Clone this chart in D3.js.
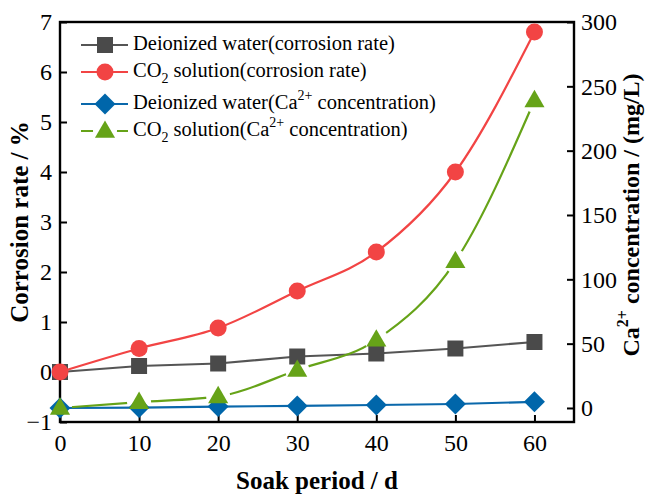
<!DOCTYPE html>
<html>
<head>
<meta charset="utf-8">
<script src="https://cdn.jsdelivr.net/npm/d3@7"></script>
<style>
  html, body { margin: 0; padding: 0; background: #fff; }
</style>
</head>
<body>
<svg id="chart" width="647" height="494"></svg>
<script>
// Soak period (days)
const days = [0, 10, 20, 30, 40, 50, 60];
// Corrosion rate (%), left axis
const diRate  = [0, 0.12, 0.17, 0.31, 0.37, 0.47, 0.6];
const co2Rate = [0, 0.47, 0.88, 1.62, 2.4, 4.0, 6.8];
// Ca2+ concentration (mg/L), right axis
const diCa  = [0, 0.3, 1.1, 1.6, 2.3, 3.1, 4.8];
const co2Ca = [0, 4.5, 9, 29.5, 53, 114, 239];

const xTicks = [0, 10, 20, 30, 40, 50, 60];
const leftTicks = [-1, 0, 1, 2, 3, 4, 5, 6, 7];
const rightTicks = [0, 50, 100, 150, 200, 250, 300];

const FONT = "Liberation Serif";

const svg = d3.select("#chart");
const L = 60, R = 574, T = 22, B = 422;

const x = d3.scaleLinear().domain([0, 65]).range([L, R]);
const yL = d3.scaleLinear().domain([-1, 7]).range([B, T]);
const yR = d3.scaleLinear().domain([-10.9, 300]).range([B, T]);

const series = [
  { name: "di-rate",  vals: diRate,  y: yL, color: "#555555", mcolor: "#4a4a4a", sym: "square",   curve: d3.curveLinear,   gap: false },
  { name: "co2-rate", vals: co2Rate, y: yL, color: "#f24444", mcolor: "#f24444", sym: "circle",   curve: d3.curveMonotoneX, gap: false },
  { name: "di-ca",    vals: diCa,    y: yR, color: "#0a68ab", mcolor: "#0066aa", sym: "diamond",  curve: d3.curveLinear,   gap: false },
  { name: "co2-ca",   vals: co2Ca,   y: yR, color: "#66a318", mcolor: "#66a318", sym: "triangle", curve: d3.curveMonotoneX, gap: true }
];

function symbolPath(sym) {
  if (sym === "square") return d3.symbol(d3.symbolSquare, 256)();
  if (sym === "circle") return d3.symbol(d3.symbolCircle, 227)();
  if (sym === "diamond") return d3.symbol(d3.symbolSquare, 220)();
  return d3.symbol(d3.symbolTriangle, 175)();
}
function symbolTransform(sym, px, py) {
  if (sym === "diamond") return `translate(${px},${py}) rotate(45)`;
  if (sym === "triangle") return `translate(${px},${py + 1})`;
  return `translate(${px},${py})`;
}

const defs = svg.append("defs");

// mask that leaves a gap in the line around each symbol
function gapMask(id, pts, r) {
  const m = defs.append("mask").attr("id", id).attr("maskUnits", "userSpaceOnUse")
    .attr("x", 0).attr("y", 0).attr("width", 647).attr("height", 494);
  m.append("rect").attr("x", 0).attr("y", 0).attr("width", 647).attr("height", 494).attr("fill", "#fff");
  pts.forEach(p => m.append("circle").attr("cx", p[0]).attr("cy", p[1]).attr("r", r).attr("fill", "#000"));
}

// frame and axes (drawn under the data)
const axisStyle = g => {
  g.attr("font-family", FONT).attr("font-size", 24);
  g.select(".domain").remove();
  g.selectAll(".tick line").attr("stroke", "#000").attr("stroke-width", 2);
  g.selectAll(".tick text").attr("fill", "#000").style("font-family", `"${FONT}"`).attr("font-size", 24);
};

svg.append("g").attr("transform", `translate(0,${B})`)
  .call(d3.axisBottom(x).tickValues(xTicks).tickSizeInner(-7).tickSizeOuter(0).tickPadding(12).tickFormat(d3.format("d")))
  .call(axisStyle);

svg.append("g").attr("transform", `translate(${L},0)`)
  .call(d3.axisLeft(yL).tickValues(leftTicks).tickSizeInner(-7).tickSizeOuter(0).tickPadding(8).tickFormat(d3.format("d")))
  .call(axisStyle);

svg.append("g").attr("transform", `translate(${R},0)`)
  .call(d3.axisRight(yR).tickValues(rightTicks).tickSizeInner(-7).tickSizeOuter(0).tickPadding(7).tickFormat(d3.format("d")))
  .call(axisStyle);

svg.append("rect")
  .attr("x", L).attr("y", T).attr("width", R - L).attr("height", B - T)
  .attr("fill", "none").attr("stroke", "#000").attr("stroke-width", 2.4);

// lines then markers
series.forEach(s => {
  const pts = days.map((d, i) => [x(d), s.y(s.vals[i])]);
  const line = d3.line().curve(s.curve);
  const p = svg.append("path")
    .attr("d", line(pts))
    .attr("fill", "none")
    .attr("stroke", s.color)
    .attr("stroke-width", 2.2);
  if (s.gap) {
    gapMask("gap-" + s.name, pts, 12);
    p.attr("mask", `url(#gap-${s.name})`);
  }
  s.pts = pts;
});
series.forEach(s => {
  svg.append("g").selectAll("path").data(s.pts).join("path")
    .attr("d", symbolPath(s.sym))
    .attr("transform", p => symbolTransform(s.sym, p[0], p[1]))
    .attr("fill", s.mcolor);
});

// axis titles
svg.append("text")
  .attr("x", (L + R) / 2).attr("y", 483)
  .attr("text-anchor", "middle").attr("dominant-baseline", "middle")
  .style("font-family", `"${FONT}"`)
  .attr("font-size", 25).attr("font-weight", "bold")
  .text("Soak period / d");

svg.append("text")
  .attr("transform", "translate(22,222) rotate(-90)")
  .attr("text-anchor", "middle").attr("dominant-baseline", "middle")
  .style("font-family", `"${FONT}"`)
  .attr("font-size", 25).attr("font-weight", "bold")
  .text("Corrosion rate / %");

const rt = svg.append("text")
  .attr("transform", "translate(633,215) rotate(-90)")
  .attr("text-anchor", "middle").attr("dominant-baseline", "middle")
  .style("font-family", `"${FONT}"`)
  .attr("font-size", 24).attr("font-weight", "bold");
rt.append("tspan").text("Ca");
rt.append("tspan").attr("font-size", 16).attr("baseline-shift", "super").text("2+");
rt.append("tspan").text(" concentration / (mg/L)");

// legend
const legendRows = [
  { s: series[0], y: 45,  parts: [["Deionized water(corrosion rate)", null]] },
  { s: series[1], y: 72,  parts: [["CO", null], ["2", "sub"], [" solution(corrosion rate)", null]] },
  { s: series[2], y: 104, parts: [["Deionized water(Ca", null], ["2+", "super"], [" concentration)", null]] },
  { s: series[3], y: 131, parts: [["CO", null], ["2", "sub"], [" solution(Ca", null], ["2+", "super"], [" concentration)", null]] }
];
const lx0 = 81, lx1 = 128, lxm = 105, ltx = 133;
legendRows.forEach((row, i) => {
  const g = svg.append("g");
  const ln = g.append("line")
    .attr("x1", lx0).attr("x2", lx1).attr("y1", row.y).attr("y2", row.y)
    .attr("stroke", row.s.color).attr("stroke-width", 2.2);
  if (row.s.gap) {
    gapMask("lg-gap-" + i, [[lxm, row.y]], 12);
    ln.attr("mask", `url(#lg-gap-${i})`);
  }
  g.append("path").attr("d", symbolPath(row.s.sym))
    .attr("transform", symbolTransform(row.s.sym, lxm, row.y))
    .attr("fill", row.s.mcolor);
  const t = g.append("text").attr("x", ltx).attr("y", row.y)
    .style("font-family", `"${FONT}"`)
    .attr("dominant-baseline", "middle").attr("font-size", 20.5);
  row.parts.forEach(([txt, shift]) => {
    const ts = t.append("tspan").text(txt);
    if (shift) ts.attr("font-size", 14).attr("baseline-shift", shift);
  });
});
</script>
</body>
</html>
